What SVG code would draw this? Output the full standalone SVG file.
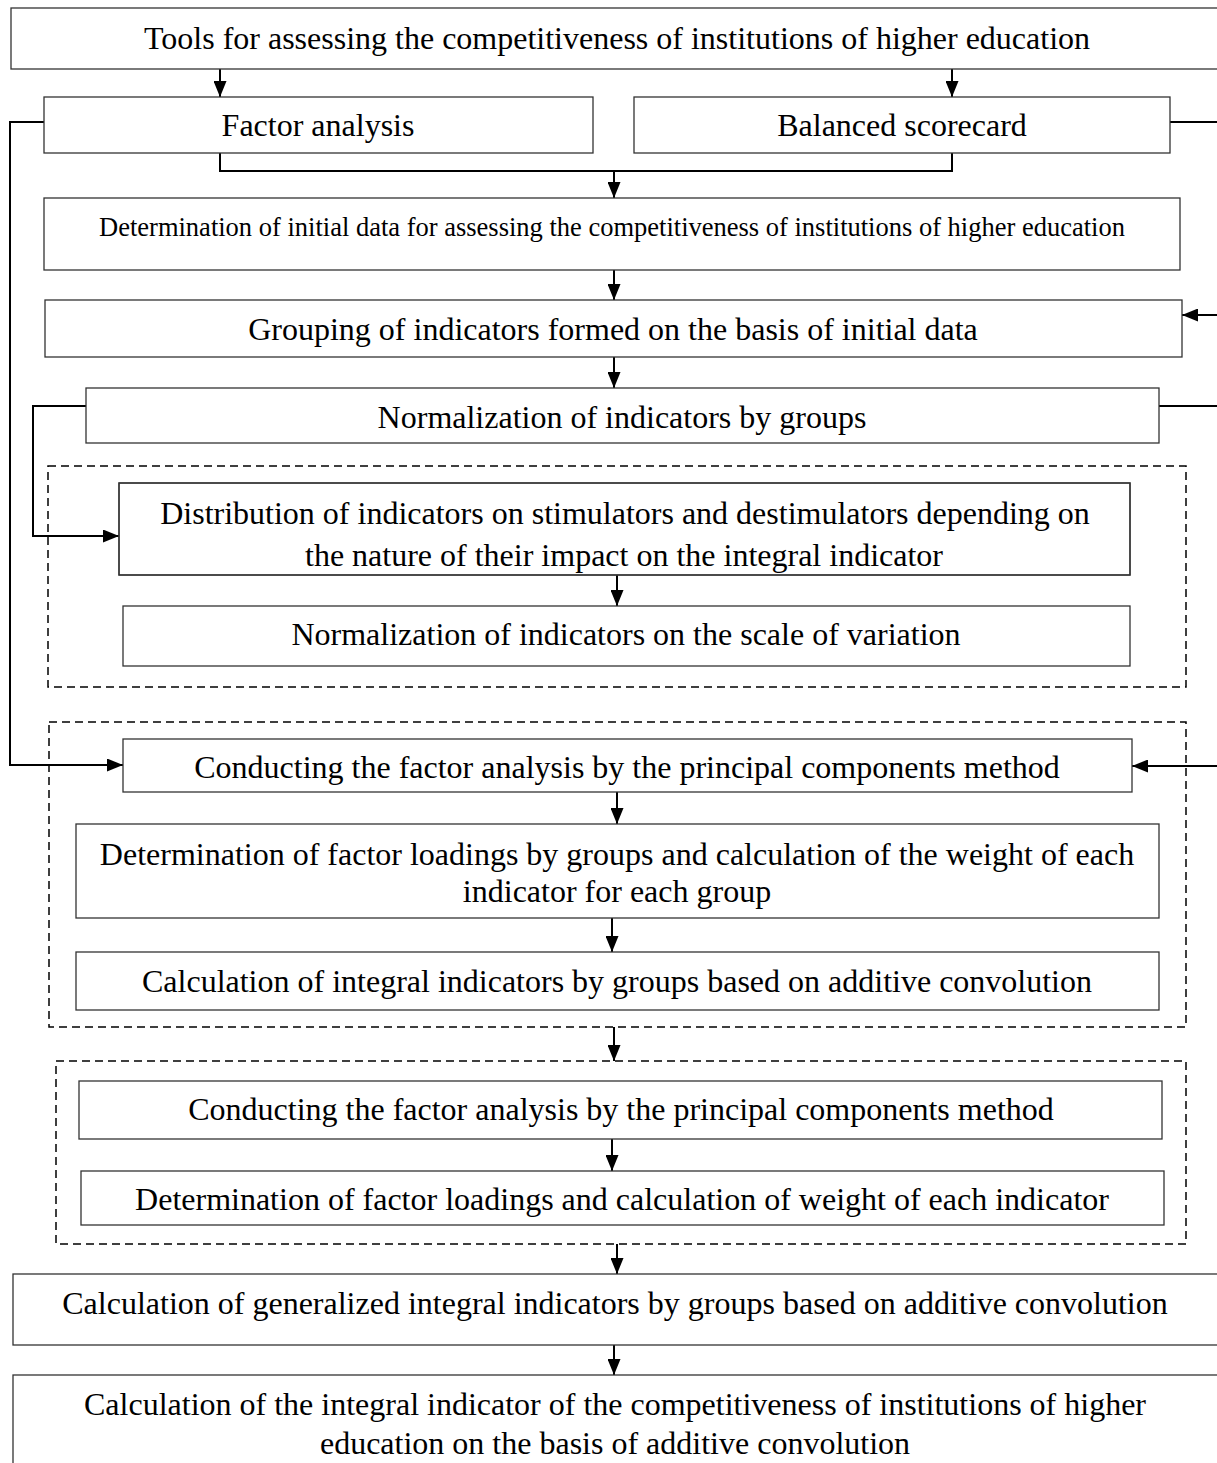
<svg xmlns="http://www.w3.org/2000/svg" width="1217" height="1463" viewBox="0 0 1217 1463">
<style>
.box{fill:#fff;stroke:#333;stroke-width:1.3}
.dash{fill:none;stroke:#000;stroke-width:1.5;stroke-dasharray:8,5}
.t{font-family:"Liberation Serif","Times New Roman",serif;font-size:32px;fill:#000;text-anchor:middle}
.s{font-size:26.5px}
.c{fill:none;stroke:#000;stroke-width:2}
</style>
<defs>
<marker id="ah" markerUnits="userSpaceOnUse" markerWidth="17" markerHeight="13" refX="16" refY="6.5" orient="auto">
<path d="M0,0 L16,6.5 L0,13 Z" fill="#000"/>
</marker>
<clipPath id="clipDist"><rect x="119" y="483" width="1011" height="92"/></clipPath>
</defs>
<rect class="dash" x="48" y="466" width="1138" height="221"/>
<rect class="dash" x="49" y="722" width="1137" height="305"/>
<rect class="dash" x="56" y="1061" width="1130" height="183"/>
<g id="connectors">
<path class="c" d="M220,69 V97" marker-end="url(#ah)"/>
<path class="c" d="M952,69 V97" marker-end="url(#ah)"/>
<path class="c" d="M220,153 V171 H952 V153"/>
<path class="c" d="M614,171 V198" marker-end="url(#ah)"/>
<path class="c" d="M614,270 V300" marker-end="url(#ah)"/>
<path class="c" d="M614,357 V388" marker-end="url(#ah)"/>
<path class="c" d="M617,575 V606" marker-end="url(#ah)"/>
<path class="c" d="M617,792 V824" marker-end="url(#ah)"/>
<path class="c" d="M612,918 V952" marker-end="url(#ah)"/>
<path class="c" d="M614,1027 V1061" marker-end="url(#ah)"/>
<path class="c" d="M612,1139 V1171" marker-end="url(#ah)"/>
<path class="c" d="M617,1244 V1274" marker-end="url(#ah)"/>
<path class="c" d="M614,1345 V1375" marker-end="url(#ah)"/>
<path class="c" d="M44,122 H10 V765 H123" marker-end="url(#ah)"/>
<path class="c" d="M86,406 H33 V536 H119" marker-end="url(#ah)"/>
<path class="c" d="M1170,122 H1222 V766 H1132" marker-end="url(#ah)"/>
<path class="c" d="M1222,315 H1182" marker-end="url(#ah)"/>
<path class="c" d="M1159,406 H1222"/>
</g>
<g id="n1"><rect class="box" x="11" y="8" width="1220" height="61"/><text class="t" x="617" y="49">Tools for assessing the competitiveness of institutions of higher education</text></g>
<g id="n2"><rect class="box" x="44" y="97" width="549" height="56"/><text class="t" x="318" y="136">Factor analysis</text></g>
<g id="n3"><rect class="box" x="634" y="97" width="536" height="56"/><text class="t" x="902" y="136">Balanced scorecard</text></g>
<g id="n4"><rect class="box" x="44" y="198" width="1136" height="72"/><text class="t s" x="612" y="236">Determination of initial data for assessing the competitiveness of institutions of higher education</text></g>
<g id="n5"><rect class="box" x="45" y="300" width="1137" height="57"/><text class="t" x="613" y="340">Grouping of indicators formed on the basis of initial data</text></g>
<g id="n6"><rect class="box" x="86" y="388" width="1073" height="55"/><text class="t" x="622" y="428">Normalization of indicators by groups</text></g>
<g id="n7"><rect class="box" x="119" y="483" width="1011" height="92"/><g clip-path="url(#clipDist)"><text class="t" x="625" y="524">Distribution of indicators on stimulators and destimulators depending on</text><text class="t" x="624" y="566">the nature of their impact on the integral indicator</text></g><rect x="119" y="483" width="1011" height="92" fill="none" stroke="#333" stroke-width="1.3"/></g>
<g id="n8"><rect class="box" x="123" y="606" width="1007" height="60"/><text class="t" x="626" y="645">Normalization of indicators on the scale of variation</text></g>
<g id="n9"><rect class="box" x="123" y="739" width="1009" height="53"/><text class="t" x="627" y="778">Conducting the factor analysis by the principal components method</text></g>
<g id="n10"><rect class="box" x="76" y="824" width="1083" height="94"/><text class="t" x="617" y="865">Determination of factor loadings by groups and calculation of the weight of each</text><text class="t" x="617" y="902">indicator for each group</text></g>
<g id="n11"><rect class="box" x="76" y="952" width="1083" height="58"/><text class="t" x="617" y="992">Calculation of integral indicators by groups based on additive convolution</text></g>
<g id="n12"><rect class="box" x="79" y="1081" width="1083" height="58"/><text class="t" x="621" y="1120">Conducting the factor analysis by the principal components method</text></g>
<g id="n13"><rect class="box" x="81" y="1171" width="1083" height="54"/><text class="t" x="622" y="1210">Determination of factor loadings and calculation of weight of each indicator</text></g>
<g id="n14"><rect class="box" x="13" y="1274" width="1220" height="71"/><text class="t" x="615" y="1314">Calculation of generalized integral indicators by groups based on additive convolution</text></g>
<g id="n15"><rect class="box" x="13" y="1375" width="1220" height="100"/><text class="t" x="615" y="1415">Calculation of the integral indicator of the competitiveness of institutions of higher</text><text class="t" x="615" y="1454">education on the basis of additive convolution</text></g>
</svg>
